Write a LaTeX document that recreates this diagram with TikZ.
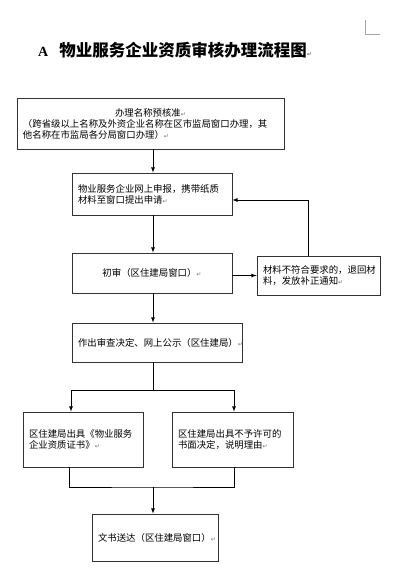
\documentclass[tikz,border=0pt]{standalone}
\usepackage{fontspec}
\setmainfont{Liberation Serif}
\newfontfamily\cjk{Noto Sans CJK SC}
\newfontfamily\retfont{DejaVu Sans}
\usepackage{xcolor}
\newcommand\retmk{{\retfont\fontsize{6}{6}\selectfont\color{black!55}↵}}

\begin{document}
\begin{tikzpicture}[x=1pt,y=-1pt,
    box/.style={draw=black!80,line width=0.8pt,inner xsep=6pt,inner ysep=2pt,align=left,
      font=\cjk\fontsize{9.4}{11}\selectfont},
    link/.style={-latex,line width=0.8pt}]
    \useasboundingbox (0,0) rectangle (400,582);
    \draw [black!35] (365,20) -- (365,34) -- (380,34);
    \node [anchor=west,inner sep=0pt] (title) at (38,50)
      {\bfseries\fontsize{14}{16}\selectfont A\hspace{11pt}{\cjk\fontsize{16.5}{18}\selectfont 物业服务企业资质审核办理流程图}\retmk};

    \node [box,minimum width=267pt,minimum height=51pt,text width=255pt] (apply0) at (150.5,123.5)
      {\makebox[\linewidth]{办理名称预核准\retmk}\\（跨省级以上名称及外资企业名称在区市监局窗口办理，其\\他名称在市监局各分局窗口办理）\retmk\\[-4pt]};
    \node [box,minimum width=160pt,minimum height=42pt,text width=148pt] (apply) at (152,194)
      {物业服务企业网上申报，携带纸质\\材料至窗口提出申请\retmk};
    \node [box,align=center,minimum width=160pt,minimum height=40pt,text width=148pt] (check) at (152,273)
      {初审（区住建局窗口）\retmk};
    \node [box,minimum width=123pt,minimum height=39pt,text width=111pt] (back) at (318.5,275.5)
      {材料不符合要求的，退回材\\料，发放补正通知\retmk};
    \node [box,minimum width=170pt,minimum height=39pt,text width=158pt] (decide) at (157,342.5)
      {作出审查决定、网上公示（区住建局）\retmk};
    \node [box,minimum width=120pt,minimum height=55pt,text width=108pt] (grant) at (83,439.5)
      {区住建局出具《物业服务\\企业资质证书》\retmk};
    \node [box,minimum width=121pt,minimum height=55pt,text width=109pt] (deny) at (232.5,439.5)
      {区住建局出具不予许可的\\书面决定，说明理由\retmk};
    \node [box,minimum width=126pt,minimum height=47pt,text width=114pt] (deliver) at (155,537.5)
      {文书送达（区住建局窗口）\retmk};

    \coordinate (split) at (153,390);
    \coordinate (merge) at (153,487);
    \draw [link] (split |- apply0.south) -- (split |- apply.north);
    \draw [link] (split |- apply.south) -- (split |- check.north);
    \draw [link] (back.west -| check.east) -- (back.west);
    \draw [link] ([xshift=-10pt]back.north) |- ([yshift=-6pt]apply.east);
    \draw [link] (split |- check.south) -- (split |- decide.north);
    \draw [line width=0.8pt] (split |- decide.south) -- (split);
    \draw [link] (split) -| ([xshift=-12pt]grant.north);
    \draw [link] (split) -| ([xshift=1.5pt]deny.north);
    \draw [line width=0.8pt] ([xshift=-14pt]grant.south) |- (merge) -| ([xshift=1.5pt]deny.south);
    \draw [link] (merge) -- (merge |- deliver.north);
\end{tikzpicture}
\end{document}
